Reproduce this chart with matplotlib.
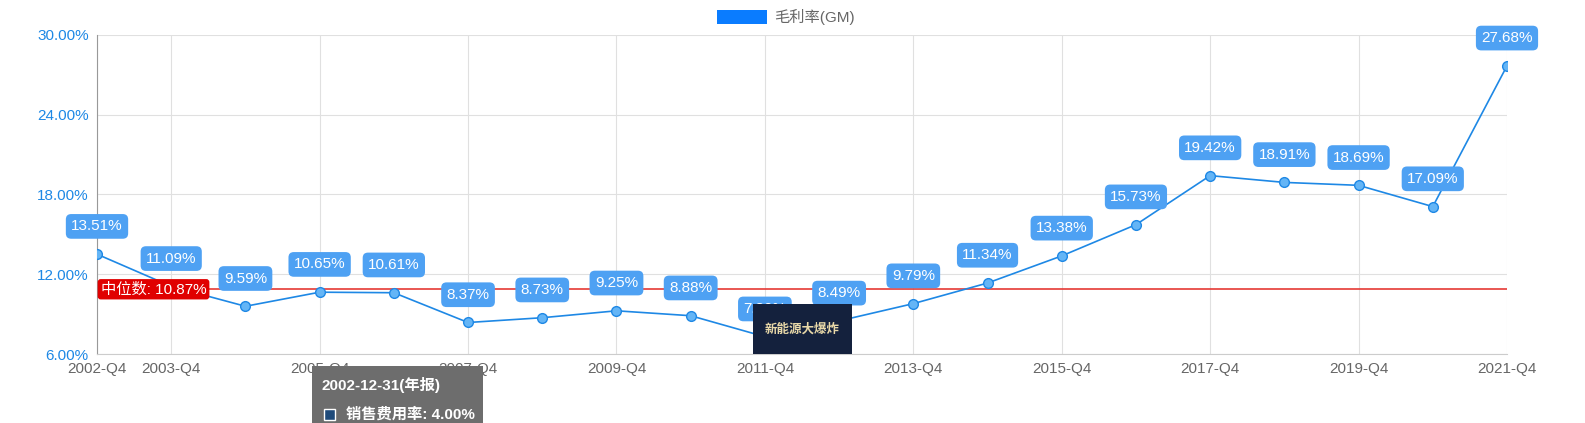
import matplotlib
matplotlib.use("Agg")
import matplotlib.pyplot as plt
from matplotlib.patches import Rectangle

plt.rcParams['font.family'] = ['Liberation Sans', 'Noto Sans CJK SC', 'DejaVu Sans']

cats = [f"{y}-Q4" for y in range(2002, 2022)]
gm = [13.51, 11.09, 9.59, 10.65, 10.61, 8.37, 8.73, 9.25, 8.88, 7.30,
      8.49, 9.79, 11.34, 13.38, 15.73, 19.42, 18.91, 18.69, 17.09, 27.68]
median = 10.87
tick_years = ["2002-Q4", "2003-Q4", "2005-Q4", "2007-Q4", "2009-Q4", "2011-Q4",
              "2013-Q4", "2015-Q4", "2017-Q4", "2019-Q4", "2021-Q4"]

W, H = 1585, 423
fig = plt.figure(figsize=(W/100, H/100), dpi=100)
ax = fig.add_axes([97/W, 1-354/H, (1507-97)/W, (354-35)/H])
x = list(range(len(cats)))
blue = '#1e88e5'
ax.plot(x, gm, color=blue, lw=1.2, marker='o', ms=7, mfc='#64b5f6', mec=blue, mew=1, zorder=3)
for i, v in enumerate(gm):
    ax.annotate(f"{v:.2f}%", (i, v), xytext=(0, 20), textcoords='offset points', ha='center', va='center',
                fontsize=11, color='white', bbox=dict(boxstyle='round,pad=0.35', fc='#4ea1f3', ec='none'), zorder=4)
ax.axhline(median, color='#e53935', lw=1.2, zorder=2)
ax.text(0.05, median, f"中位数: {median:.2f}%", color='white', fontsize=11, va='center', ha='left',
        bbox=dict(boxstyle='round,pad=0.2', fc='#e00000', ec='none'), zorder=5)
ax.set_xlim(0, len(cats)-1)
ax.set_ylim(6, 30)
ax.set_yticks([6, 12, 18, 24, 30])
ax.set_yticklabels([f"{t:.2f}%" for t in [6, 12, 18, 24, 30]], color=blue, fontsize=11)
ax.set_xticks([cats.index(t) for t in tick_years])
ax.set_xticklabels(tick_years, color='#666666', fontsize=11)
ax.grid(True, color='#e0e0e0', lw=0.8)
ax.set_axisbelow(True)
for s in ['top', 'right']:
    ax.spines[s].set_visible(False)
ax.spines['left'].set_color('#999999')
ax.spines['bottom'].set_color('#cccccc')
ax.tick_params(length=0, pad=6)

# legend
fig.patches.append(Rectangle((717/W, 1-24/H), 50/W, 14/H, transform=fig.transFigure, fc='#0a7cff', ec='none'))
fig.text(774/W, 1-17/H, "毛利率(GM)", fontsize=11, color='#666666', va='center')

# watermark
fig.patches.append(Rectangle((753/W, 1-354/H), 99/W, 50/H, transform=fig.transFigure, fc='#14213d', ec='none', zorder=10))
fig.text(802/W, 1-329/H, "新能源大爆炸", fontsize=9, color='#e8d8a8', ha='center', va='center', weight='bold', zorder=11)

# tooltip
fig.patches.append(Rectangle((312/W, 0), 171/W, 57/H, transform=fig.transFigure, fc='#6d6d6d', ec='none', zorder=10))
fig.text(322/W, 1-385/H, "2002-12-31(年报)", fontsize=11, color='white', va='center', weight='bold', zorder=11)
fig.text(346/W, 1-414/H, "销售费用率: 4.00%", fontsize=11, color='white', va='center', weight='bold', zorder=11)
fig.patches.append(Rectangle((324/W, 1-420/H), 11/W, 11/H, transform=fig.transFigure, fc='#1e4a7a', ec='white', zorder=11))

fig.savefig("out.png", dpi=100)
